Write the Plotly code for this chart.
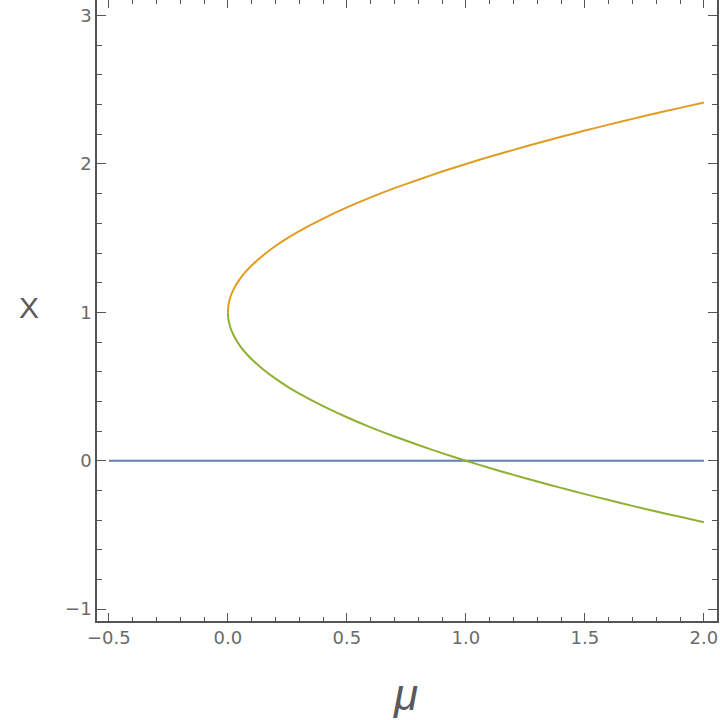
import plotly.graph_objects as go

# values
mu = [0.0, 0.002, 0.01, 0.025, 0.05, 0.075, 0.1, 0.15, 0.2, 0.25, 0.3, 0.4, 0.5,
      0.6, 0.7, 0.8, 0.9, 1.0, 1.1, 1.2, 1.3, 1.4, 1.5, 1.6, 1.7, 1.8, 1.9, 2.0]
x_upper = [1.0, 1.045, 1.10, 1.158, 1.224, 1.274, 1.316, 1.387, 1.447, 1.50, 1.548,
           1.632, 1.707, 1.775, 1.837, 1.894, 1.949, 2.0, 2.049, 2.095, 2.140,
           2.183, 2.225, 2.265, 2.304, 2.342, 2.378, 2.414]
x_lower = [1.0, 0.955, 0.90, 0.842, 0.776, 0.726, 0.684, 0.613, 0.553, 0.50, 0.452,
           0.368, 0.293, 0.225, 0.163, 0.106, 0.051, 0.0, -0.049, -0.095, -0.140,
           -0.183, -0.225, -0.265, -0.304, -0.342, -0.378, -0.414]
mu_zero = [-0.5, 2.0]
x_zero = [0.0, 0.0]

x_ticks = [-0.5, 0.0, 0.5, 1.0, 1.5, 2.0]
x_ticktext = ["\u22120.5", "0.0", "0.5", "1.0", "1.5", "2.0"]
y_ticks = [-1, 0, 1, 2, 3]
y_ticktext = ["\u22121", "0", "1", "2", "3"]

fig = go.Figure()
fig.add_trace(go.Scatter(x=mu_zero, y=x_zero, mode="lines",
                         line=dict(color="#5E81B5", width=2)))
fig.add_trace(go.Scatter(x=mu, y=x_upper, mode="lines",
                         line=dict(color="#E19C24", width=2, shape="spline", smoothing=0.6)))
fig.add_trace(go.Scatter(x=mu, y=x_lower, mode="lines",
                         line=dict(color="#8FB032", width=2, shape="spline", smoothing=0.6)))

axis_common = dict(
    showgrid=False, zeroline=False, showline=True, linecolor="#555555",
    linewidth=1.5, mirror="ticks", ticks="inside", tickcolor="#555555",
    tickwidth=1, automargin=False,
    tickfont=dict(family="DejaVu Sans", size=18, color="#6a6a6a"),
)

W, H = 720, 720
l, r, t, b = 97, 3, 0, 99
pw, ph = W - l - r, H - t - b

def px2paper(px, py):
    return (px - l) / pw, 1 - (py - t) / ph

mx, my = px2paper(405, 694)
xx, xy = px2paper(29, 307)

fig.update_layout(
    width=W, height=H,
    margin=dict(l=l, r=r, t=t, b=b, autoexpand=False),
    paper_bgcolor="white", plot_bgcolor="white",
    showlegend=False,
    xaxis=dict(range=[-0.55, 2.055], tickvals=x_ticks, ticktext=x_ticktext,
               ticklen=8, minor=dict(dtick=0.1, ticks="inside", ticklen=4,
                                     tickcolor="#555555", tickwidth=1),
               **axis_common),
    yaxis=dict(range=[-1.08, 3.105], tickvals=y_ticks, ticktext=y_ticktext,
               ticklen=9, minor=dict(dtick=0.2, ticks="inside", ticklen=5,
                                     tickcolor="#555555", tickwidth=1),
               **axis_common),
    annotations=[
        dict(text="<i>\u03bc</i>", x=mx, y=my, xref="paper", yref="paper",
             xanchor="center", yanchor="middle",
             showarrow=False, font=dict(family="Liberation Sans", size=44, color="#5a5a5a")),
        dict(text="X", x=xx, y=xy, xref="paper", yref="paper",
             xanchor="center", yanchor="middle",
             showarrow=False, font=dict(family="Liberation Sans", size=30, color="#5a5a5a")),
    ],
)

fig.write_html("out.html", config={"displayModeBar": False},
               post_script="document.body.style.margin='0';document.body.style.overflow='hidden';")
